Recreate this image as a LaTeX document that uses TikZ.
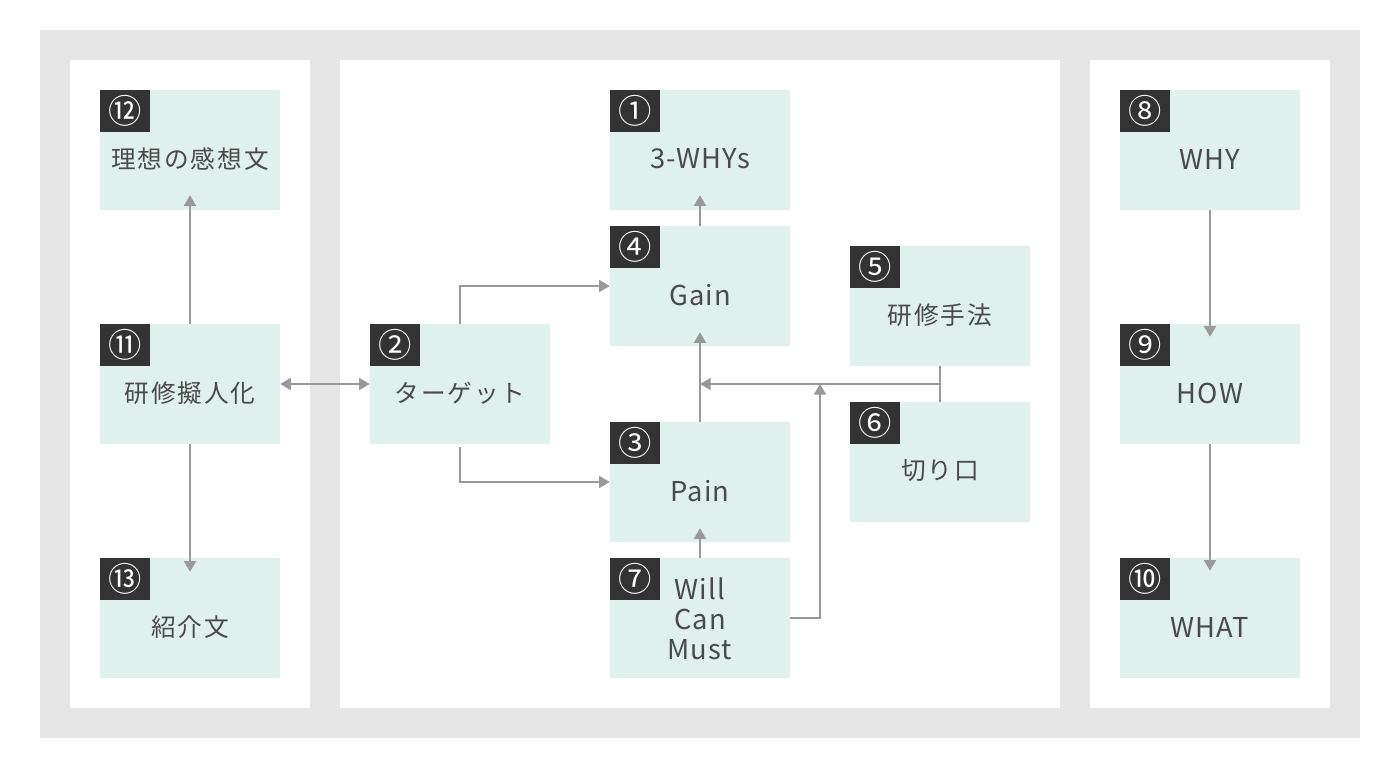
\documentclass[tikz,border=0pt]{standalone}
\usepackage{fontspec}
\setmainfont{Noto Sans CJK JP}
\newfontfamily\jp[LetterSpace=8]{Noto Sans CJK JP}
\newfontfamily\lat[LetterSpace=4]{Noto Sans CJK JP}
\usetikzlibrary{arrows.meta,calc}
\definecolor{bggrey}{HTML}{E6E6E6}
\definecolor{boxfill}{HTML}{E0F0EC}
\definecolor{badgecol}{HTML}{333333}
\definecolor{txtcol}{HTML}{4A4A4A}
\definecolor{arrcol}{HTML}{999999}
\begin{document}
\begin{tikzpicture}[x=0.75pt,y=-0.75pt,
  box/.style={fill=boxfill,minimum width=135pt,minimum height=90pt,inner sep=0pt},
  badge/.style={fill=badgecol,text=white,minimum width=37.5pt,minimum height=31.5pt,inner sep=0pt,anchor=north west,font=\fontsize{25}{25}\selectfont},
  lbl/.style={text=txtcol,font=\jp\fontsize{18.5}{22.5}\selectfont,align=center,inner sep=0pt},
  latlbl/.style={text=txtcol,font=\lat\fontsize{20.5}{22.5}\selectfont,align=center,inner sep=0pt},
  arr/.style={draw=arrcol,line width=1.5pt,-{Triangle[width=9pt,length=8pt]}},
  darr/.style={draw=arrcol,line width=1.5pt,{Triangle[width=9pt,length=8pt]}-{Triangle[width=9pt,length=8pt]}},
  ln/.style={draw=arrcol,line width=1.5pt}]
\useasboundingbox (0,0) rectangle (1400,768);
\fill[white] (0,0) rectangle (1400,768);
\fill[bggrey] (40,30) rectangle (1360,738);
\fill[white] (70,60) rectangle (310,708);
\fill[white] (340,60) rectangle (1060,708);
\fill[white] (1090,60) rectangle (1330,708);

% boxes
\node[box] (b12) at (190,150) {};
\node[box] (b11) at (190,384) {};
\node[box] (b13) at (190,618) {};
\node[box] (b1) at (700,150) {};
\node[box] (b4) at (700,286) {};
\node[box] (b2) at (460,384) {};
\node[box] (b3) at (700,482) {};
\node[box] (b7) at (700,618) {};
\node[box] (b5) at (940,306) {};
\node[box] (b6) at (940,462) {};
\node[box] (b8) at (1210,150) {};
\node[box] (b9) at (1210,384) {};
\node[box] (b10) at (1210,618) {};

% badges
\node[badge] (n1) at (b1.north west) {①};
\node[badge] (n2) at (b2.north west) {②};
\node[badge] (n3) at (b3.north west) {③};
\node[badge] (n4) at (b4.north west) {④};
\node[badge] (n5) at (b5.north west) {⑤};
\node[badge] (n6) at (b6.north west) {⑥};
\node[badge] (n7) at (b7.north west) {⑦};
\node[badge] (n8) at (b8.north west) {⑧};
\node[badge] (n9) at (b9.north west) {⑨};
\node[badge] (n10) at (b10.north west) {⑩};
\node[badge] (n11) at (b11.north west) {⑪};
\node[badge] (n12) at (b12.north west) {⑫};
\node[badge] (n13) at (b13.north west) {⑬};

% labels
\node[lbl] (t12) at ($(b12.center)+(0,9)$) {理想の感想文};
\node[lbl] (t11) at ($(b11.center)+(0,9)$) {研修擬人化};
\node[lbl] (t13) at ($(b13.center)+(0,9)$) {紹介文};
\node[latlbl] (t1) at ($(b1.center)+(0,9)$) {3-WHYs};
\node[latlbl] (t4) at ($(b4.center)+(0,9)$) {Gain};
\node[lbl] (t2) at ($(b2.center)+(0,9)$) {ターゲット};
\node[latlbl] (t3) at ($(b3.center)+(0,9)$) {Pain};
\node[latlbl] (t7) at ($(b7.center)+(0,1)$) {Will\\Can\\Must};
\node[lbl] (t5) at ($(b5.center)+(0,9)$) {研修手法};
\node[lbl] (t6) at ($(b6.center)+(0,9)$) {切り口};
\node[latlbl] (t8) at ($(b8.center)+(0,9)$) {WHY};
\node[latlbl] (t9) at ($(b9.center)+(0,9)$) {HOW};
\node[latlbl] (t10) at ($(b10.center)+(0,9)$) {WHAT};

% connectors
\draw[arr] (b11.north) -- ($(b12.south)+(0,-15)$);
\draw[arr] (b11.south) -- ($(b13.north)+(0,14)$);
\draw[darr] (b11.east) -- (b2.west);
\draw[arr] (b2.north) |- (b4.west);
\draw[arr] ($(b2.south)+(0,3)$) |- (b3.west);
\draw[arr] (b3.north) -- ($(b4.south)+(0,-14)$);
\draw[arr] (b4.north) -- ($(b1.south)+(0,-15)$);
\draw[arr] (b7.north) -- ($(b3.south)+(0,-14)$);
\coordinate (j) at ($(b5.south)!0.5!(b6.north)$);
\coordinate (k) at ($(j)+(-120,0)$);
\draw[ln] (b5.south) -- (b6.north);
\draw[arr] (j) -- (j -| b3.north);
\draw[arr] (b7.east) -| (k);
\draw[arr] (b8.south) -- ($(b9.north)+(0,13)$);
\draw[arr] (b9.south) -- ($(b10.north)+(0,13)$);
\end{tikzpicture}
\end{document}
